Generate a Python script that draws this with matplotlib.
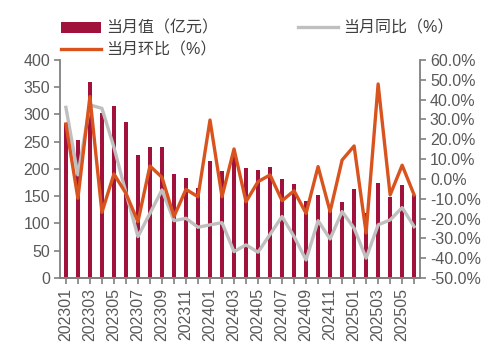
import numpy as np
import matplotlib
matplotlib.use("Agg")
import matplotlib.pyplot as plt
from matplotlib.ticker import MultipleLocator, FuncFormatter

plt.rcParams['font.family'] = ['Liberation Sans', 'Noto Sans CJK SC', 'DejaVu Sans']

# monthly data, 2023-01 .. 2025-06
months = ['202301', '202302', '202303', '202304', '202305', '202306',
          '202307', '202308', '202309', '202310', '202311', '202312',
          '202401', '202402', '202403', '202404', '202405', '202406',
          '202407', '202408', '202409', '202410', '202411', '202412',
          '202501', '202502', '202503', '202504', '202505', '202506']
value = [284, 254, 360, 303, 316, 287, 226, 241, 241, 191, 183, 166,
         215, 197, 226, 201, 198, 204, 182, 172, 141, 152, 127, 139,
         163, 119, 175, 149, 171, 152]
yoy = [36.1, 2.0, 37.3, 35.6, 16.0, -7.0, -29.1, -17.4, -5.6, -21.1, -19.9, -24.4,
       -23.2, -22.1, -36.7, -33.3, -37.0, -28.0, -19.0, -29.1, -40.9, -21.1, -30.3, -16.5,
       -24.9, -40.0, -23.2, -20.7, -14.5, -24.1]
mom = [27.7, -9.8, 41.5, -16.9, 2.5, -7.3, -21.6, 6.5, 0.8, -19.0, -5.3, -9.0,
       29.7, -9.0, 15.1, -11.5, -1.4, 2.0, -11.0, -6.0, -17.4, 6.2, -16.5, 9.5,
       16.6, -27.3, 47.9, -8.1, 6.9, -8.1]

bar_color = '#A0123C'
yoy_color = '#BFBFBF'
mom_color = '#D9531E'
spine_color = '#808080'
text_color = '#595959'

fig = plt.figure(figsize=(4.99, 3.55), dpi=100)
ax = fig.add_axes([0.120, 0.217, 0.722, 0.614])
ax2 = ax.twinx()

x = np.arange(len(months))
b = ax.bar(x, value, width=0.36, color=bar_color, label='当月值（亿元）', zorder=2)
l2, = ax2.plot(x, yoy, color=yoy_color, lw=2.4, label='当月同比（%）', zorder=3)
l1, = ax2.plot(x, mom, color=mom_color, lw=2.4, label='当月环比（%）', zorder=4)

ax.set_xlim(-0.5, len(months) - 0.5)
ax.set_ylim(0, 400)
ax.yaxis.set_major_locator(MultipleLocator(50))
ax2.set_ylim(-50, 60)
ax2.yaxis.set_major_locator(MultipleLocator(10))
ax2.yaxis.set_major_formatter(FuncFormatter(lambda v, p: f'{v:.1f}%'))

ax.set_xticks(x, minor=True)
ax.set_xticks(x[::2])
ax.set_xticklabels(months[::2], rotation=90)

for a in (ax, ax2):
    a.spines['top'].set_visible(False)
    for s in ('left', 'right', 'bottom'):
        a.spines[s].set_color(spine_color)
        a.spines[s].set_linewidth(1.3)
    a.tick_params(axis='both', which='both', colors=spine_color, labelcolor=text_color,
                  labelsize=11.5, length=4, width=1.2, direction='out')
ax2.spines['left'].set_visible(False)
ax.spines['right'].set_visible(False)
ax.tick_params(axis='x', pad=3)
ax.tick_params(axis='y', pad=3)
ax2.tick_params(axis='y', pad=3)

ax.patch.set_visible(False)
ax.set_zorder(ax2.get_zorder() - 1)
ax2.patch.set_visible(False)

fig.legend([b, l1, l2], ['当月值（亿元）', '当月环比（%）', '当月同比（%）'],
           ncol=2, loc='upper left', bbox_to_anchor=(0.115, 0.951), frameon=False,
           fontsize=11.5, labelcolor='#404040', handlelength=2.5, handletextpad=0.35,
           columnspacing=5.0, labelspacing=0.4, borderaxespad=0, borderpad=0.2)

fig.savefig('out.png', dpi=100)
